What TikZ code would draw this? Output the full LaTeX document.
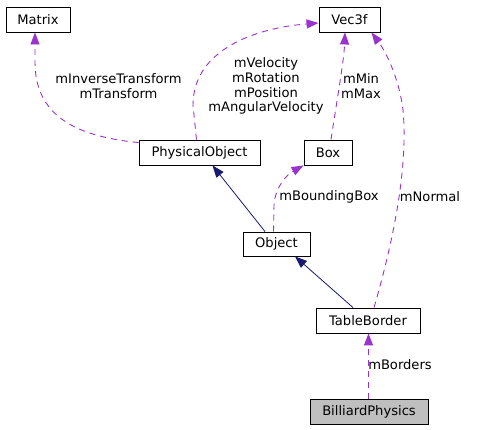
\documentclass[tikz,border=0pt]{standalone}
\usepackage{fontspec}
\setmainfont{DejaVu Sans}
\usetikzlibrary{arrows.meta,calc}
\definecolor{dep}{HTML}{9A32CD}
\definecolor{inh}{HTML}{191970}
\definecolor{cur}{HTML}{BFBFBF}
\tikzset{
  cls/.style={draw=black, line width=0.9pt, fill=white, minimum height=25pt, inner sep=0pt, font=\fontsize{13.1}{14.5}\selectfont},
  deparrow/.style={draw=dep, line width=0.9pt, dash pattern=on 6pt off 5pt, -{Triangle[length=12pt,width=9pt,fill=dep]}},
  inharrow/.style={draw=inh, line width=0.8pt, -{Triangle[length=12pt,width=9pt,fill=inh]}},
  lbl/.style={align=center, inner sep=0pt, font=\fontsize{13.1}{14.8}\selectfont}
}
\begin{document}
\begin{tikzpicture}[x=1pt,y=-1pt]
\useasboundingbox (0,0) rectangle (479,429);
\node[cls, minimum width=64pt] (mat) at (38,19.5) {Matrix};
\node[cls, minimum width=61pt] (vec) at (349.5,19.5) {Vec3f};
\node[cls, minimum width=121pt] (po) at (199.5,152.5) {PhysicalObject};
\node[cls, minimum width=48pt] (box) at (328,152.5) {Box};
\node[cls, minimum width=67pt, minimum height=24pt] (obj) at (276.5,244) {Object};
\node[cls, minimum width=104pt] (tb) at (368,320.5) {TableBorder};
\node[cls, minimum width=118pt, fill=cur] (bp) at (369,411.5) {BilliardPhysics};

% dependencies
\draw[deparrow] ([yshift=-3pt]po.north west) .. controls (70,136) and (35,112) .. (35,62) -- ([xshift=-3pt]mat.south);
\draw[deparrow] ([xshift=-3pt]po.north) -- (193,105) .. controls (193,50) and (255,28) .. ([yshift=-3.5pt]vec.west);
\draw[deparrow] ([xshift=3pt]box.north) .. controls (337,100) and (344,60) .. ([xshift=-4.5pt]vec.south);
\draw[deparrow] ([xshift=6pt]tb.north) .. controls (395,235) and (408,165) .. (403,110) .. controls (399,78) and (386,52) .. ([xshift=22pt]vec.south);
\draw[deparrow] ([xshift=-3pt]obj.north) -- (274,205) .. controls (275,188) and (286,175) .. (box.south west);
\draw[deparrow, line width=1.1pt] ([xshift=-0.5pt]bp.north) -- ([xshift=-0.5pt]bp.north|-tb.south);

% inheritance
\draw[inharrow] ([xshift=-11.5pt]obj.north) -- ([xshift=13pt]po.south);
\draw[inharrow] ([xshift=-15pt]tb.north) -- ([xshift=18.5pt]obj.south);

% labels
\node[lbl] (l1) at (118.5,86) {mInverseTransform\\mTransform};
\node[lbl] (l2) at (266,86) {mVelocity\\mRotation\\mPosition\\mAngularVelocity};
\node[lbl] (l3) at (361,86) {mMin\\mMax};
\node[lbl] (l4) at (329,197) {mBoundingBox};
\node[lbl] (l5) at (430,197) {mNormal};
\node[lbl] (l6) at (400,365) {mBorders};
\end{tikzpicture}
\end{document}
